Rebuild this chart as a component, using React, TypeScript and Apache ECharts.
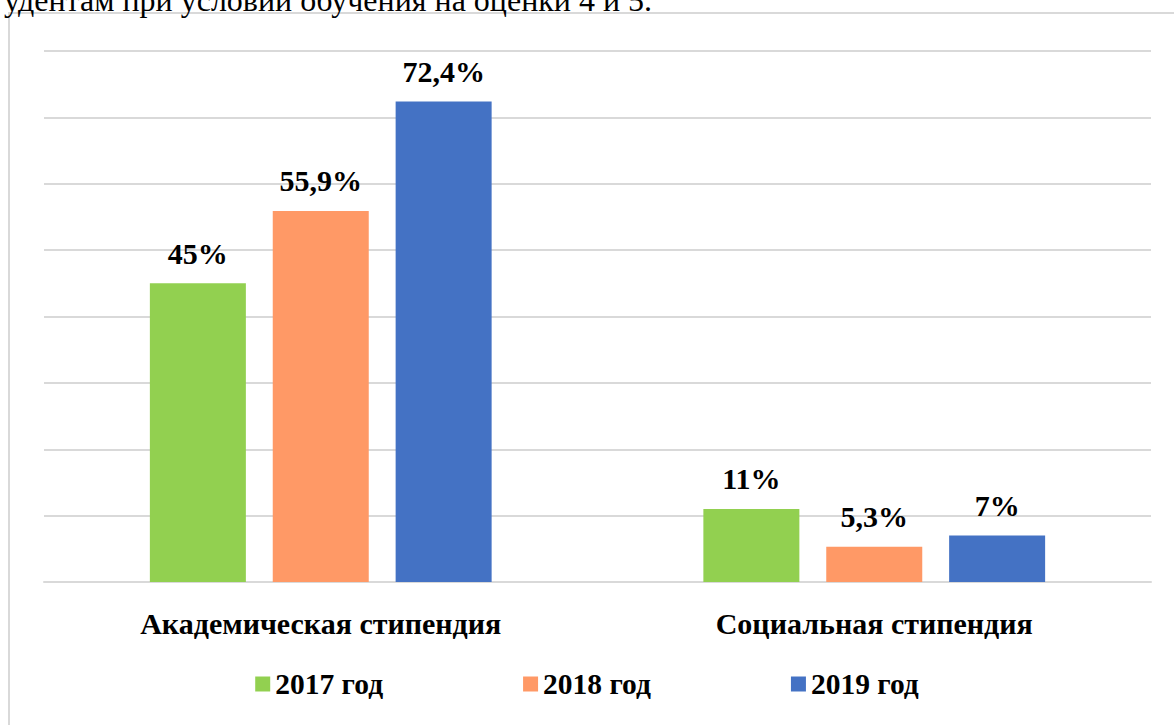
import React, { useEffect, useRef } from "react";
import * as echarts from "echarts";

const categories = ["Академическая стипендия", "Социальная стипендия"];
const seriesNames = ["2017 год", "2018 год", "2019 год"];
const values2017 = [45, 11];
const values2018 = [55.9, 5.3];
const values2019 = [72.4, 7];
const colors = ["#92D050", "#FF9966", "#4472C4"];
const headerText = "удентам при условии обучения на оценки 4 и 5.";

const fmt = (v: number) => String(v).replace(".", ",") + "%";
const SERIF = "Liberation Serif";

export default function App() {
  const ref = useRef<HTMLDivElement>(null);
  useEffect(() => {
    if (!ref.current) return;
    const chart = echarts.init(ref.current, undefined, { renderer: "svg" });
    const allValues = [values2017, values2018, values2019];
    chart.setOption({
      animation: false,
      backgroundColor: "#ffffff",
      textStyle: { fontFamily: SERIF },
      graphic: [
        {
          type: "rect",
          shape: { x: 9, y: 13, width: 1200, height: 760 },
          style: { fill: "none", stroke: "#d9d9d9", lineWidth: 2 },
          z: 0,
        },
        {
          type: "text",
          x: 4,
          y: 0,
          style: {
            text: headerText,
            fontFamily: SERIF,
            fontSize: 32,
            fill: "#000",
            verticalAlign: "middle",
          },
        },
      ],
      legend: {
        data: seriesNames,
        bottom: 21,
        left: "center",
        itemWidth: 15,
        itemHeight: 15,
        itemGap: 140,
        icon: "rect",
        textStyle: { fontFamily: SERIF, fontWeight: "bold", fontSize: 29.5, color: "#000" },
      },
      grid: { left: 44, right: 23, top: 51, bottom: 143, containLabel: false },
      xAxis: {
        type: "category",
        data: categories,
        axisTick: { show: false },
        axisLine: { lineStyle: { color: "#d9d9d9", width: 2 } },
        axisLabel: {
          margin: 26,
          fontFamily: SERIF,
          fontWeight: "bold",
          fontSize: 30,
          color: "#000",
        },
      },
      yAxis: {
        type: "value",
        min: 0,
        max: 80,
        interval: 10,
        axisLabel: { show: false },
        axisLine: { show: false },
        axisTick: { show: false },
        splitLine: { lineStyle: { color: "#d9d9d9", width: 2 } },
      },
      series: seriesNames.map((name, i) => ({
        name,
        type: "bar",
        data: allValues[i],
        barWidth: 96,
        barGap: "28%",
        itemStyle: { color: colors[i] },
        label: {
          show: true,
          position: "top",
          distance: 15,
          formatter: (p: any) => fmt(p.value),
          fontFamily: SERIF,
          fontWeight: "bold",
          color: "#000",
          fontSize: 30,
        },
      })),
    });
    return () => chart.dispose();
  }, []);
  return (
    <div
      ref={ref}
      style={{ position: "fixed", left: 0, top: 0, width: 1174, height: 725 }}
    />
  );
}
